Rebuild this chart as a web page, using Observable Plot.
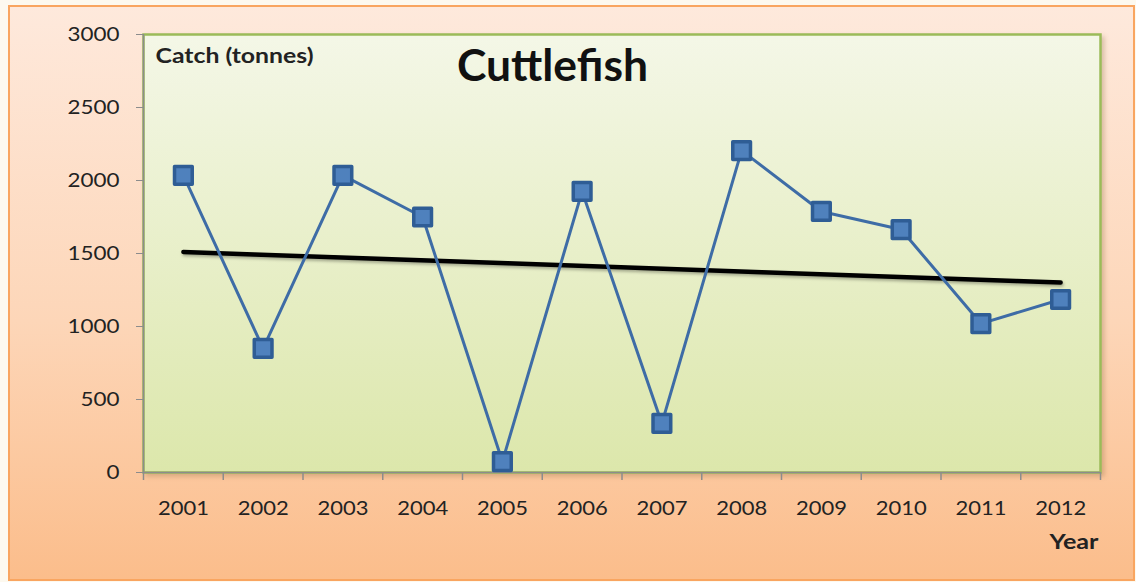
<!DOCTYPE html>
<html>
<head>
<meta charset="utf-8">
<script src="https://cdn.jsdelivr.net/npm/d3@7"></script>
<script src="https://cdn.jsdelivr.net/npm/@observablehq/plot@0.6"></script>
<style>
  html, body { margin: 0; padding: 0; background: #fdf9ef; }
  #wrap { position: relative; width: 1136px; height: 582px; overflow: hidden; }
  #box {
    position: absolute; left: 8px; top: 5px; width: 1123px; height: 572px;
    border: 2px solid #f9a560;
    background: linear-gradient(to bottom, #fee9dc 0%, #fdd6b8 55%, #fbbd8b 100%);
  }
  #chart { position: absolute; left: 0; top: 0; }
</style>
</head>
<body>
<div id="wrap">
  <div id="box"></div>
  <div id="chart"></div>
</div>
<script>
const years = [2001, 2002, 2003, 2004, 2005, 2006, 2007, 2008, 2009, 2010, 2011, 2012];
const catchTonnes = [2035, 850, 2035, 1750, 75, 1925, 336, 2205, 1788, 1664, 1020, 1185];
const yTicks = [0, 500, 1000, 1500, 2000, 2500, 3000];
const titleText = "Cuttlefish";
const yLabel = "Catch (tonnes)";
const xLabel = "Year";

const data = years.map((y, i) => ({year: y, value: catchTonnes[i]}));
const bandEdges = years.map(y => y - 0.5).concat([years[years.length - 1] + 0.5]);

const FONT = "Lato, 'Open Sans', sans-serif";

const defs = () => {
  const g = d3.create("svg:defs");
  const lg = g.append("linearGradient").attr("id", "plotGrad")
    .attr("x1", 0).attr("y1", 0).attr("x2", 0).attr("y2", 1);
  lg.append("stop").attr("offset", "0%").attr("stop-color", "#f4f7e7");
  lg.append("stop").attr("offset", "100%").attr("stop-color", "#dce7ab");
  const f = g.append("filter").attr("id", "shadow").attr("x", "-10%").attr("y", "-50%")
    .attr("width", "120%").attr("height", "200%");
  f.append("feDropShadow").attr("dx", 1).attr("dy", 2).attr("stdDeviation", 1.5)
    .attr("flood-color", "#000").attr("flood-opacity", 0.3);
  const f2 = g.append("filter").attr("id", "boxShadow").attr("x", "-5%").attr("y", "-5%")
    .attr("width", "110%").attr("height", "110%");
  f2.append("feDropShadow").attr("dx", 3).attr("dy", 3).attr("stdDeviation", 2)
    .attr("flood-color", "#8a6a40").attr("flood-opacity", 0.3);
  return g.node();
};

const plot = Plot.plot({
  width: 1136,
  height: 582,
  marginLeft: 143,
  marginRight: 36,
  marginTop: 34,
  marginBottom: 110,
  style: {background: "transparent", fontFamily: FONT, fontSize: "20px", color: "#222"},
  x: {domain: [2000.5, 2012.5], label: null},
  y: {domain: [0, 3000], label: null},
  marks: [
    defs,
    Plot.frame({fill: "url(#plotGrad)", stroke: "#9bbb59", strokeWidth: 2.5}),
    Plot.ruleX([2000.5], {stroke: "#8c8c8c", strokeWidth: 1.5}),
    Plot.ruleY([0], {stroke: "#8c8c8c", strokeWidth: 1.5}),
    Plot.axisY(yTicks, {tickSize: 7, tickPadding: 17, stroke: "#8c8c8c", tickFormat: d => String(d), fontSize: 20, fill: "#222"}),
    Plot.axisX(bandEdges, {tickSize: 8, tickFormat: () => "", stroke: "#8c8c8c", strokeWidth: 1.5}),
    Plot.axisX(years, {tickSize: 0, tickPadding: 28, tickFormat: d => String(d), fontSize: 20, fill: "#222"}),
    Plot.linearRegressionY(data, {x: "year", y: "value", ci: 0, stroke: "#000", strokeWidth: 4.5}),
    Plot.line(data, {x: "year", y: "value", stroke: "#3e6ca6", strokeWidth: 3}),
    Plot.dot(data, {x: "year", y: "value", symbol: "square", r: 10, fill: "#4f81bd", stroke: "#2f5d95", strokeWidth: 3.5, strokeLinejoin: "round"}),
    Plot.text([titleText], {frameAnchor: "top-left", textAnchor: "middle", lineAnchor: "middle", dx: 409, dy: 32, fontSize: 44, fontWeight: "bold", fill: "#111", fontFamily: FONT}),
    Plot.text([yLabel], {frameAnchor: "top-left", textAnchor: "start", lineAnchor: "middle", dx: 12, dy: 22, fontSize: 20, fontWeight: "bold", fill: "#222", fontFamily: FONT}),
    Plot.text([xLabel], {frameAnchor: "bottom-right", textAnchor: "end", lineAnchor: "middle", dx: -2, dy: 70, fontSize: 20, fontWeight: "bold", fill: "#222", fontFamily: FONT}),
  ]
});

document.getElementById("chart").appendChild(plot);

const svg = d3.select(plot);
svg.selectAll('[aria-label="frame"]').attr("filter", "url(#boxShadow)");
svg.selectAll('[aria-label="linear-regression"]').attr("filter", "url(#shadow)");

// the reference is horizontally stretched: widen text to the measured widths
function stretchTo(nodes, refWidth) {
  nodes = nodes.filter(n => n.textContent.length);
  if (!nodes.length) return;
  const refNode = nodes.reduce((a, b) => (a.getComputedTextLength() >= b.getComputedTextLength() ? a : b));
  const k = refWidth / refNode.getComputedTextLength();
  nodes.forEach(n => {
    const w = n.getComputedTextLength();
    n.setAttribute("textLength", (w * k).toFixed(1));
    n.setAttribute("lengthAdjust", "spacingAndGlyphs");
  });
}
const allText = svg.selectAll("text").nodes();
const byContent = s => allText.filter(n => n.textContent === s);
stretchTo(svg.selectAll('[aria-label="y-axis tick label"] text').nodes(), 52);
stretchTo(svg.selectAll('[aria-label="x-axis tick label"] text').nodes(), 51);
stretchTo(byContent(titleText), 191);
stretchTo(byContent(yLabel), 158);
stretchTo(byContent(xLabel), 49);
</script>
</body>
</html>
